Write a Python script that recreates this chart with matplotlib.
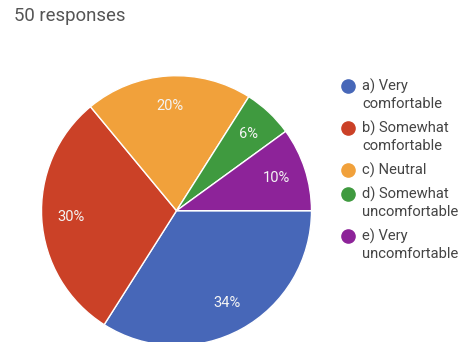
import matplotlib.pyplot as plt

# Respuestas de la encuesta
labels = ["a) Very\ncomfortable", "b) Somewhat\ncomfortable", "c) Neutral",
          "d) Somewhat\nuncomfortable", "e) Very\nuncomfortable"]
percents = [34, 30, 20, 6, 10]
colors = ["#4767b8", "#cb4127", "#f1a13b", "#3f9a3f", "#8d2399"]
n_responses = 50

plt.rcParams['font.family'] = ['Roboto', 'DejaVu Sans']

fig = plt.figure(figsize=(4.61, 3.42), dpi=100)
fig.patch.set_facecolor("white")

# Ejes del pastel (radio de 135 px, centro en 176,211)
cx, cy, r = 176.5, 210.7, 135
ax = fig.add_axes([(cx - r) / 461, (342 - cy - r) / 342, 2 * r / 461, 2 * r / 342])
wedges, texts, autotexts = ax.pie(
    percents, colors=colors, startangle=0, counterclock=False,
    autopct=lambda p: f"{p:.0f}%", pctdistance=0.78,
    wedgeprops=dict(edgecolor="white", linewidth=1),
    textprops=dict(color="#f4f4f4", fontsize=10.5))
ax.set_xlim(-1, 1)
ax.set_ylim(-1, 1)
ax.set_aspect("equal")

# Capa en pixeles para el titulo y la leyenda
over = fig.add_axes([0, 0, 1, 1], zorder=5)
over.set_xlim(0, 461)
over.set_ylim(342, 0)
over.axis("off")
over.patch.set_alpha(0)

over.text(14, 16, f"{n_responses} responses", fontsize=13.4, color="#555555",
          va="center", ha="left")

y = 86
for lab, col in zip(labels, colors):
    over.plot(348, y, "o", markersize=9.5, color=col)
    for line in lab.split("\n"):
        over.text(362, y, line, fontsize=10.6, color="#444444", va="center", ha="left")
        y += 18
    y += 6

fig.savefig("out.png", dpi=100)
